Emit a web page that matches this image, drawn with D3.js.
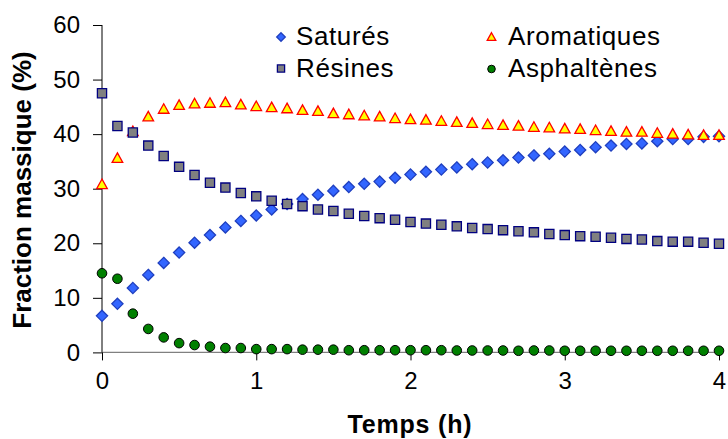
<!DOCTYPE html>
<html><head><meta charset="utf-8">
<script src="https://cdn.jsdelivr.net/npm/d3@7"></script>
<style>
html,body{margin:0;padding:0;background:#fff;}
svg{display:block;font-family:"Liberation Sans",Arial,sans-serif;}
</style></head>
<body>
<svg id="chart" width="728" height="439"></svg>
<script>
const time = d3.range(41).map(i => +(i * 0.1).toFixed(1));
const satures = [6.7,8.9,11.8,14.2,16.4,18.3,20.1,21.5,22.9,24.1,25.1,26.2,27.2,28.1,28.9,29.6,30.3,30.9,31.3,32.0,32.6,33.1,33.5,33.9,34.5,34.8,35.2,35.7,36.1,36.4,36.8,37.1,37.6,37.9,38.2,38.3,38.7,39.1,39.1,39.5,39.6];
const aromatiques = [30.8,35.6,40.5,43.2,44.6,45.3,45.6,45.7,45.8,45.4,45.1,44.9,44.7,44.4,44.2,43.8,43.6,43.4,43.2,42.9,42.7,42.6,42.4,42.2,42.0,41.8,41.65,41.5,41.3,41.2,41.0,40.9,40.7,40.55,40.4,40.4,40.2,40.05,39.9,39.8,39.8];
const resines = [47.5,41.5,40.3,37.9,36.0,34.0,32.5,31.1,30.2,29.2,28.6,27.8,27.2,26.8,26.2,25.9,25.4,25.0,24.6,24.3,23.9,23.6,23.4,23.1,22.8,22.6,22.4,22.2,22.0,21.7,21.5,21.3,21.2,21.0,20.8,20.7,20.4,20.3,20.3,20.1,19.9];
const asphaltenes = [14.5,13.5,7.1,4.3,2.75,1.7,1.35,1.05,0.8,0.8,0.6,0.6,0.6,0.5,0.5,0.5,0.4,0.4,0.4,0.4,0.4,0.4,0.4,0.35,0.35,0.35,0.35,0.3,0.35,0.35,0.3,0.3,0.3,0.3,0.3,0.3,0.3,0.3,0.3,0.3,0.3];
const xTicks = [0,1,2,3,4];
const yTicks = [0,10,20,30,40,50,60];
const seriesNames = ["Saturés","Aromatiques","Résines","Asphaltènes"];

const svg = d3.select("#chart");
const x = d3.scaleLinear().domain([0,4]).range([102,719]);
const y = d3.scaleLinear().domain([0,60]).range([352.4,25]);

// axes
const yAxis = svg.append("g").attr("transform","translate(102,0)")
  .call(d3.axisLeft(y).tickValues(yTicks).tickSize(9).tickPadding(13).tickFormat(d3.format("d")));
yAxis.select(".domain").attr("stroke","#000").attr("d","M0,25V352.4");
yAxis.selectAll(".tick line").attr("stroke","#000");
yAxis.selectAll(".tick text").attr("font-size","24px").attr("fill","#000").attr("font-family","Liberation Sans, Arial, sans-serif");

const xAxis = svg.append("g").attr("transform","translate(0,352.4)")
  .call(d3.axisBottom(x).tickValues(xTicks).tickSize(8).tickPadding(12).tickFormat(d3.format("d")));
xAxis.select(".domain").attr("stroke","#808080").attr("stroke-width",1.2).attr("d","M102,0H719");
xAxis.selectAll(".tick line").attr("stroke","#000");
xAxis.selectAll(".tick text").attr("font-size","24px").attr("fill","#000").attr("font-family","Liberation Sans, Arial, sans-serif");

// axis titles
svg.append("text").attr("x",410).attr("y",433).attr("text-anchor","middle")
  .attr("font-size","25px").attr("font-weight","bold").attr("letter-spacing","0.8px").text("Temps (h)");
svg.append("text").attr("transform","translate(31,190) rotate(-90)").attr("text-anchor","middle")
  .attr("font-size","26px").attr("font-weight","bold").text("Fraction massique (%)");

// markers
const styles = {
  "Saturés": {shape:"diamond", fill:"#3366FF", stroke:"#1f3fbf"},
  "Aromatiques": {shape:"triangle", fill:"#FFFF00", stroke:"#FF0000"},
  "Résines": {shape:"square", fill:"#808080", stroke:"#000080"},
  "Asphaltènes": {shape:"circle", fill:"#008000", stroke:"#000"}
};
function markerPath(shape, s){
  if(shape==="diamond") return `M0,${-s}L${s},0L0,${s}L${-s},0Z`;
  if(shape==="triangle") return `M0,${-s}L${s},${s*0.8}L${-s},${s*0.8}Z`;
  if(shape==="square") return `M${-s},${-s}H${s}V${s}H${-s}Z`;
  return null;
}
function drawMarker(g, name, cx, cy, size){
  const st = styles[name];
  if(st.shape==="circle"){
    g.append("circle").attr("cx",cx).attr("cy",cy).attr("r",size)
      .attr("fill",st.fill).attr("stroke",st.stroke).attr("stroke-width",1);
  } else {
    g.append("path").attr("transform",`translate(${cx},${cy})`).attr("d",markerPath(st.shape,size))
      .attr("fill",st.fill).attr("stroke",st.stroke).attr("stroke-width",1.3).attr("stroke-linejoin","miter");
  }
}
const data = {"Saturés":satures,"Aromatiques":aromatiques,"Résines":resines,"Asphaltènes":asphaltenes};
const sizes = {"Saturés":5.6,"Aromatiques":5.3,"Résines":4.6,"Asphaltènes":4.8};
seriesNames.forEach(name => {
  const g = svg.append("g");
  data[name].forEach((v,i) => drawMarker(g, name, x(time[i]), y(v), sizes[name]));
});

// legend
const legend = svg.append("g");
const legPos = [
  {name:"Saturés", mx:281, my:37, tx:296, ty:45},
  {name:"Aromatiques", mx:491.5, my:37, tx:508, ty:45},
  {name:"Résines", mx:281, my:68.5, tx:296, ty:77},
  {name:"Asphaltènes", mx:491.5, my:69, tx:508, ty:77}
];
legPos.forEach(p => {
  drawMarker(legend, p.name, p.mx, p.my, p.name==="Asphaltènes"?3.8:(p.name==="Saturés"?4.3:(p.name==="Aromatiques"?4.3:3.6)));
  legend.append("text").attr("x",p.tx).attr("y",p.ty).attr("font-size","26px").attr("letter-spacing","0.6px").attr("fill","#000").text(p.name);
});
</script>
</body></html>
